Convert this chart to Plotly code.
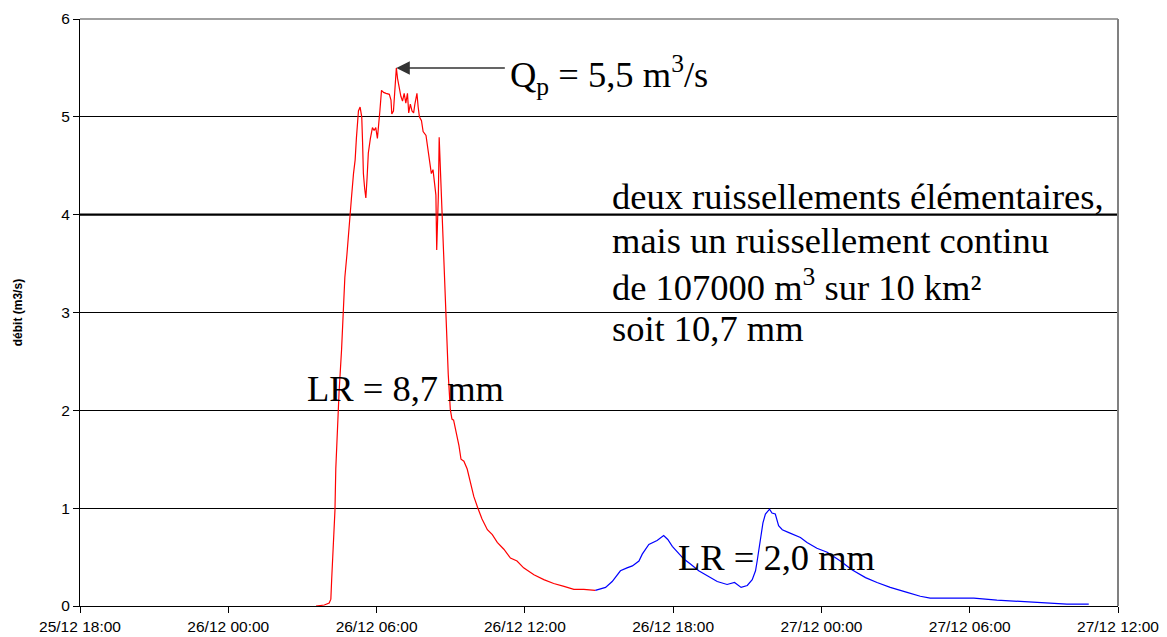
import plotly.graph_objects as go
import pandas as pd

# crue du 26/12 - debit mesure (m3/s)
red_times = [
    "26 03:33", "26 03:53", "26 04:05", "26 04:09", "26 04:11", "26 04:15", "26 04:19",
    "26 04:21", "26 04:25", "26 04:29", "26 04:35", "26 04:39", "26 04:43", "26 04:48",
    "26 04:51", "26 04:56", "26 04:59", "26 05:04", "26 05:08", "26 05:11", "26 05:16",
    "26 05:20", "26 05:24", "26 05:26", "26 05:28", "26 05:31", "26 05:34", "26 05:37",
    "26 05:40", "26 05:45", "26 05:50", "26 05:54", "26 05:58", "26 06:02", "26 06:05",
    "26 06:08", "26 06:12", "26 06:17", "26 06:23", "26 06:31", "26 06:35", "26 06:37",
    "26 06:41", "26 06:44", "26 06:48", "26 06:51", "26 06:55", "26 06:59", "26 07:03",
    "26 07:07", "26 07:11", "26 07:15", "26 07:18", "26 07:22", "26 07:26", "26 07:30",
    "26 07:33", "26 07:38", "26 07:41", "26 07:44", "26 07:49", "26 07:53", "26 08:00",
    "26 08:04", "26 08:08", "26 08:13", "26 08:17", "26 08:20", "26 08:24", "26 08:26",
    "26 08:30", "26 08:32", "26 08:34", "26 08:38", "26 08:40", "26 08:44", "26 08:47",
    "26 08:50", "26 08:54", "26 08:59", "26 09:03", "26 09:07", "26 09:14", "26 09:20",
    "26 09:25", "26 09:32", "26 09:40", "26 09:48", "26 09:56", "26 10:06", "26 10:16",
    "26 10:29", "26 10:41", "26 10:53", "26 11:09", "26 11:25", "26 11:41", "26 11:57",
    "26 12:22", "26 12:46", "26 13:10", "26 13:35", "26 13:59", "26 14:23", "26 14:47",
    "26 14:51",
]
red_q = [
    0.0, 0.01, 0.03, 0.07, 0.27, 0.60, 0.98,
    1.40, 1.86, 2.19, 2.62, 3.09, 3.36, 3.59,
    3.77, 3.99, 4.17, 4.42, 4.56, 4.78, 5.06,
    5.10, 5.00, 4.74, 4.42, 4.27, 4.17, 4.38,
    4.63, 4.78, 4.89, 4.86, 4.89, 4.78, 4.89,
    5.06, 5.27, 5.25, 5.24, 5.23, 5.17, 5.03,
    5.06, 5.24, 5.50, 5.39, 5.28, 5.21, 5.16,
    5.24, 5.14, 5.24, 5.04, 5.13, 5.06, 5.04,
    5.13, 5.24, 5.10, 5.00, 4.96, 4.85, 4.81,
    4.67, 4.53, 4.42, 4.46, 4.35, 4.20, 3.64,
    4.20, 4.79, 4.56, 4.17, 3.81, 3.45, 3.01,
    2.62, 2.37, 2.01, 1.91, 1.90, 1.77, 1.64,
    1.50, 1.48, 1.40, 1.26, 1.12, 1.00, 0.89,
    0.78, 0.73, 0.65, 0.58, 0.49, 0.46, 0.39,
    0.32, 0.27, 0.23, 0.20, 0.17, 0.17, 0.16,
    0.16,
]

blue_times = [
    "26 14:51", "26 15:16", "26 15:32", "26 15:52", "26 16:08", "26 16:21", "26 16:37",
    "26 16:45", "26 17:01", "26 17:21", "26 17:37", "26 17:47", "26 17:58", "26 18:10",
    "26 18:26", "26 18:42", "26 19:02", "26 19:23", "26 19:47", "26 20:11", "26 20:29",
    "26 20:45", "26 21:00", "26 21:12", "26 21:20", "26 21:24", "26 21:32", "26 21:38",
    "26 21:44", "26 21:54", "26 22:00", "26 22:08", "26 22:16", "26 22:25", "26 22:41",
    "26 22:57", "26 23:09", "26 23:25", "26 23:49", "27 00:14", "27 00:46", "27 01:14",
    "27 01:47", "27 02:15", "27 02:47", "27 03:28", "27 04:00", "27 04:24", "27 06:10",
    "27 07:06", "27 07:47", "27 08:51", "27 09:56", "27 10:49",
]
blue_q = [
    0.16, 0.19, 0.25, 0.36, 0.39, 0.41, 0.46,
    0.53, 0.63, 0.67, 0.72, 0.68, 0.61, 0.55,
    0.48, 0.43, 0.36, 0.31, 0.25, 0.22, 0.24,
    0.19, 0.21, 0.27, 0.36, 0.46, 0.68, 0.85,
    0.94, 0.99, 0.95, 0.94, 0.82, 0.78, 0.75,
    0.72, 0.70, 0.65, 0.59, 0.55, 0.46, 0.37,
    0.29, 0.24, 0.19, 0.14, 0.10, 0.08, 0.08,
    0.06, 0.05, 0.04, 0.02, 0.02,
]

y_ticks = [0, 1, 2, 3, 4, 5, 6]

note_lines = [
    "deux ruissellements élémentaires,",
    "mais un ruissellement continu",
    "de 107000 m<sup>3</sup> sur 10 km²",
    "soit 10,7 mm",
]


def to_dt(lst):
    return pd.to_datetime(["1999-12-" + s for s in lst])


fig = go.Figure()
fig.add_trace(go.Scatter(x=to_dt(red_times), y=red_q, mode="lines",
                         line=dict(color="#ff0000", width=1.2), showlegend=False))
fig.add_trace(go.Scatter(x=to_dt(blue_times), y=blue_q, mode="lines",
                         line=dict(color="#0000ff", width=1.2), showlegend=False))

serif = dict(family="Liberation Serif, Times New Roman, serif", size=36.5, color="black")

fig.add_annotation(x=to_dt(red_times)[red_q.index(max(red_q))], y=max(red_q),
                   ax=110, ay=0, text="", showarrow=True, arrowhead=2,
                   arrowsize=1.8, arrowwidth=1.5, arrowcolor="#333333")
fig.add_annotation(xref="paper", yref="paper", x=0.412, y=0.905, xanchor="left",
                   yanchor="middle", showarrow=False, font=serif,
                   text="Q<sub>p</sub> = 5,5 m<sup>3</sup>/s")
for i, line in enumerate(note_lines):
    fig.add_annotation(xref="paper", yref="paper", x=0.511, y=0.697 - i * 0.075,
                       xanchor="left", yanchor="middle", showarrow=False,
                       font=serif, text=line)
fig.add_annotation(xref="paper", yref="paper", x=0.217, y=0.371, xanchor="left",
                   yanchor="middle", showarrow=False, font=serif, text="LR = 8,7 mm")
fig.add_annotation(xref="paper", yref="paper", x=0.574, y=0.082, xanchor="left",
                   yanchor="middle", showarrow=False, font=serif, text="LR = 2,0 mm")
fig.add_annotation(xref="paper", yref="paper", x=-0.06, y=0.5, textangle=-90,
                   xanchor="center", yanchor="middle", showarrow=False,
                   text="<b>débit (m3/s)</b>",
                   font=dict(family="Liberation Sans, Arial, sans-serif", size=12, color="black"))

# frame: gray top/right, thicker line at 4
fig.add_shape(type="line", xref="paper", yref="paper", x0=0, x1=1, y0=1, y1=1,
              line=dict(color="#808080", width=1.5))
fig.add_shape(type="line", xref="paper", yref="paper", x0=1, x1=1, y0=0, y1=1,
              line=dict(color="#808080", width=2))
fig.add_shape(type="line", xref="paper", yref="y", x0=0, x1=1, y0=4, y1=4,
              line=dict(color="black", width=2.2), layer="below")

tick_font = dict(family="Liberation Sans, Arial, sans-serif", size=15.5, color="black")

# page body has an 8px margin, so the figure is a bit smaller than the window
fig.update_layout(
    width=1159, height=629,
    margin=dict(l=72, r=49, t=11, b=31),
    plot_bgcolor="white", paper_bgcolor="white",
    xaxis=dict(
        range=[pd.Timestamp("1999-12-25 18:00"), pd.Timestamp("1999-12-27 12:00")],
        dtick=6 * 3600 * 1000, tick0="1999-12-25 18:00", tickformat="%d/%m %H:%M",
        showgrid=False, showline=True, linecolor="black", linewidth=1,
        ticks="outside", ticklen=6, tickcolor="black", tickfont=tick_font,
        zeroline=False, automargin=False,
    ),
    yaxis=dict(
        range=[0, 6], tickvals=y_ticks, showgrid=True, gridcolor="black", gridwidth=1,
        showline=True, linecolor="black", linewidth=1, ticks="outside", ticklen=6,
        tickcolor="black", tickfont=tick_font, zeroline=False, automargin=False,
    ),
)

fig.write_html("out.html")
